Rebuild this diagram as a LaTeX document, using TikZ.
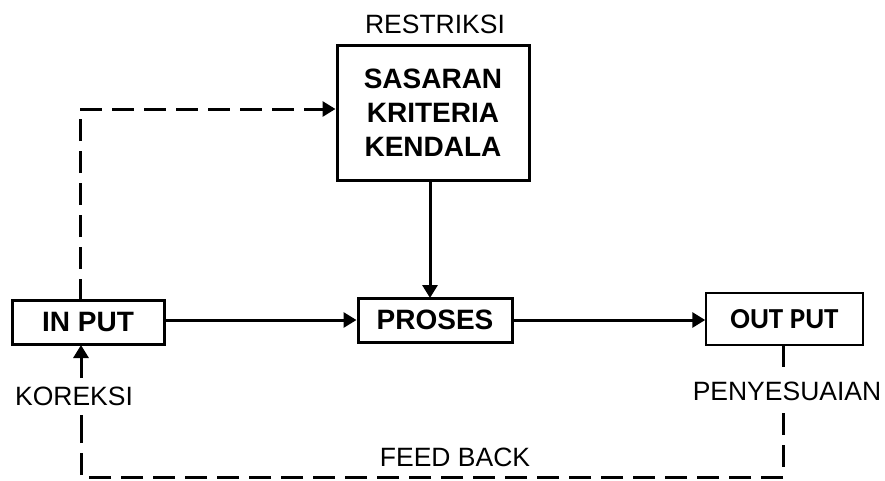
\documentclass[tikz,border=0pt]{standalone}
\usepackage{fontspec}
\setmainfont{Liberation Sans}
\newfontfamily\calib{Carlito}
\usetikzlibrary{arrows.meta}
\begin{document}
\begin{tikzpicture}[x=1pt,y=-1pt,
  box/.style={draw,line width=3pt,inner sep=0pt,align=center,font=\fontsize{28}{34}\selectfont\bfseries},
  lbl/.style={inner sep=0pt,font=\fontsize{26.5}{30}\selectfont},
  conn/.style={line width=3pt},
  dsh/.style={line width=3pt,dash pattern=on 22pt off 10pt},
  tip/.style={-{Triangle[length=13pt,width=15pt]}}]
\useasboundingbox (0,0) rectangle (885,480);
\node[box,minimum width=152pt,minimum height=44pt] (inp) at (88,322) {IN PUT};
\node[box,minimum width=192pt,minimum height=135pt] (sas) at (433,112.5) {SASARAN\\KRITERIA\\KENDALA};
\node[box,minimum width=154pt,minimum height=44pt] (pro) at (435,320) {PROSES};
\node[draw,line width=1.5pt,inner sep=0pt,minimum width=157pt,minimum height=52pt,font=\fontsize{29}{34}\selectfont\calib\bfseries] (out) at (784.5,319) {OUT PUT};
\node[lbl] (res) at (435,24) {RESTRIKSI};
\node[lbl] (kor) at (74,396) {KOREKSI};
\node[lbl] (pen) at (787,391) {PENYESUAIAN};
\node[lbl] (fb) at (455,457) {FEED BACK};
\coordinate (a0) at (80,301);
\coordinate (a1) at (80,109);
\coordinate (b0) at (783,345);
\coordinate (b1) at (783,367);
\coordinate (b2) at (783,413);
\coordinate (b3) at (783,477);
\coordinate (b4) at (81,477);
\coordinate (b5) at (81,413);
\coordinate (b6) at (81,378);
\draw[conn,tip] (inp.east |- pro.west) -- (pro.west);
\draw[conn,tip] (pro.east) -- (pro.east -| out.west);
\draw[conn,tip] (430,180) -- (430,298);
\draw[dsh,tip] (a0) -- (a1) -- (sas.west |- a1);
\draw[conn] (b0) -- (b1);
\draw[dsh] (b2) -- (b3) -- (b4) -- (b5) -- (81,432);
\draw[conn,tip] (b6) -- (81,345);
\end{tikzpicture}
\end{document}
